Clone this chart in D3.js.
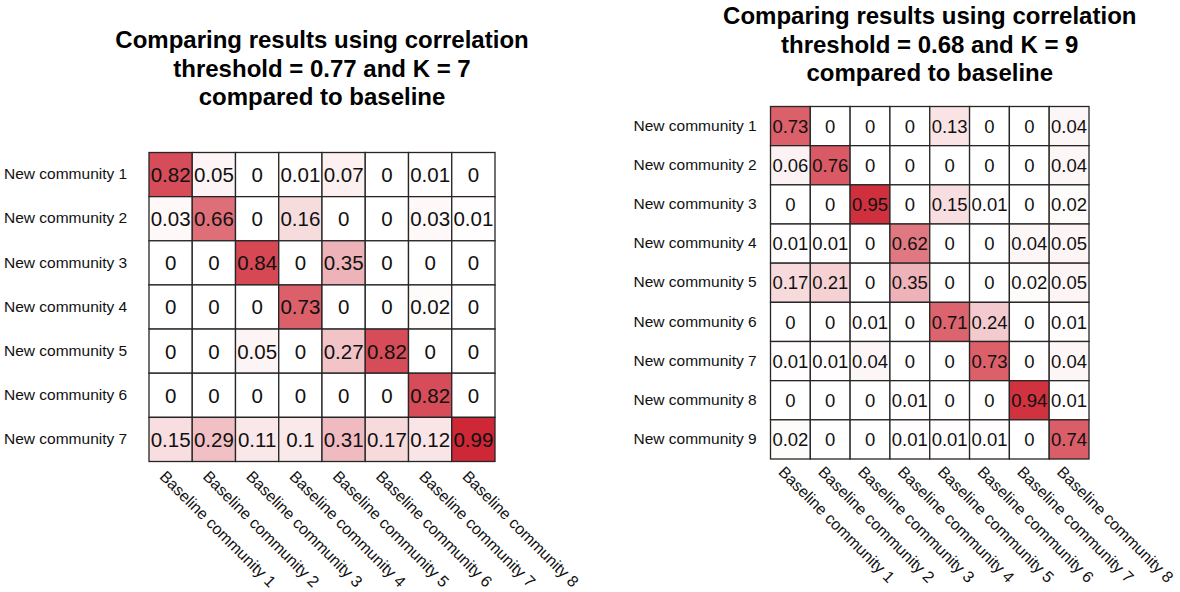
<!DOCTYPE html>
<html>
<head>
<meta charset="utf-8">
<script src="https://cdn.jsdelivr.net/npm/d3@7"></script>
<style>
  body { margin: 0; background: #fff; }
  svg { font-family: "Liberation Sans", Arial, Helvetica, sans-serif; }
</style>
</head>
<body>
<script>
// baseline communities (columns), shared by both charts
var baselineLabels = ["Baseline community 1", "Baseline community 2", "Baseline community 3",
  "Baseline community 4", "Baseline community 5", "Baseline community 6",
  "Baseline community 7", "Baseline community 8"];

// chart 1: threshold 0.77, K = 7
var leftTitle = ["Comparing results using correlation", "threshold = 0.77 and K = 7", "compared to baseline"];
var leftRows = ["New community 1", "New community 2", "New community 3", "New community 4",
  "New community 5", "New community 6", "New community 7"];
var leftValues = [
  [0.82, 0.05, 0, 0.01, 0.07, 0, 0.01, 0],
  [0.03, 0.66, 0, 0.16, 0, 0, 0.03, 0.01],
  [0, 0, 0.84, 0, 0.35, 0, 0, 0],
  [0, 0, 0, 0.73, 0, 0, 0.02, 0],
  [0, 0, 0.05, 0, 0.27, 0.82, 0, 0],
  [0, 0, 0, 0, 0, 0, 0.82, 0],
  [0.15, 0.29, 0.11, 0.1, 0.31, 0.17, 0.12, 0.99]
];

// chart 2: threshold 0.68, K = 9
var rightTitle = ["Comparing results using correlation", "threshold = 0.68 and K = 9", "compared to baseline"];
var rightRows = ["New community 1", "New community 2", "New community 3", "New community 4",
  "New community 5", "New community 6", "New community 7", "New community 8", "New community 9"];
var rightValues = [
  [0.73, 0, 0, 0, 0.13, 0, 0, 0.04],
  [0.06, 0.76, 0, 0, 0, 0, 0, 0.04],
  [0, 0, 0.95, 0, 0.15, 0.01, 0, 0.02],
  [0.01, 0.01, 0, 0.62, 0, 0, 0.04, 0.05],
  [0.17, 0.21, 0, 0.35, 0, 0, 0.02, 0.05],
  [0, 0, 0.01, 0, 0.71, 0.24, 0, 0.01],
  [0.01, 0.01, 0.04, 0, 0, 0.73, 0, 0.04],
  [0, 0, 0, 0.01, 0, 0, 0.94, 0.01],
  [0.02, 0, 0, 0.01, 0.01, 0.01, 0, 0.74]
];

var w = 1180, h = 592;

var svg = d3.select("body")
  .append("svg")
  .attr("width", w)
  .attr("height", h);

var color = d3.scaleLinear()
  .domain([0, 1])
  .range(["#ffffff", "rgb(205,37,51)"]);

function drawHeatmap(opt) {
  var g = svg.append("g");

  var xScale = d3.scaleBand()
    .domain(d3.range(baselineLabels.length))
    .range([opt.left, opt.right]);

  var yScale = d3.scaleBand()
    .domain(d3.range(opt.rows.length))
    .range([opt.top, opt.bottom]);

  var cells = [];
  opt.values.forEach(function(row, i) {
    row.forEach(function(v, j) {
      cells.push({ r: i, c: j, v: v });
    });
  });

  // cells
  g.selectAll("rect.cell")
    .data(cells)
    .enter()
    .append("rect")
    .attr("class", "cell")
    .attr("x", function(d) { return xScale(d.c); })
    .attr("y", function(d) { return yScale(d.r); })
    .attr("width", xScale.bandwidth())
    .attr("height", yScale.bandwidth())
    .attr("fill", function(d) { return color(d.v); })
    .attr("stroke", "#262626")
    .attr("stroke-width", 1.3);

  // values
  g.selectAll("text.val")
    .data(cells)
    .enter()
    .append("text")
    .attr("class", "val")
    .attr("x", function(d) { return xScale(d.c) + xScale.bandwidth() / 2; })
    .attr("y", function(d) { return yScale(d.r) + yScale.bandwidth() / 2; })
    .attr("dy", "0.36em")
    .attr("text-anchor", "middle")
    .attr("font-size", opt.cellFont)
    .attr("fill", "#111")
    .text(function(d) { return d.v; });

  // row labels
  g.selectAll("text.row")
    .data(opt.rows)
    .enter()
    .append("text")
    .attr("class", "row")
    .attr("x", opt.left - opt.rowOffset)
    .attr("y", function(d, i) { return yScale(i) + yScale.bandwidth() / 2; })
    .attr("dy", "0.3em")
    .attr("font-size", 15.5)
    .attr("fill", "#111")
    .text(function(d) { return d; });

  // column labels, rotated
  g.selectAll("text.col")
    .data(baselineLabels)
    .enter()
    .append("text")
    .attr("class", "col")
    .attr("transform", function(d, i) {
      var cx = xScale(i) + xScale.bandwidth() / 2;
      return "translate(" + (cx + opt.colDx) + "," + (opt.bottom + opt.colDy) + ") rotate(45)";
    })
    .attr("font-size", 16)
    .attr("fill", "#111")
    .text(function(d) { return d; });

  // title
  var cx = (opt.left + opt.right) / 2;
  g.selectAll("text.title")
    .data(opt.title)
    .enter()
    .append("text")
    .attr("class", "title")
    .attr("x", cx)
    .attr("y", function(d, i) { return opt.titleY + i * 28.5; })
    .attr("text-anchor", "middle")
    .attr("font-size", 24)
    .attr("font-weight", "bold")
    .attr("fill", "#000")
    .text(function(d) { return d; });
}

drawHeatmap({
  title: leftTitle, rows: leftRows, values: leftValues,
  left: 149, right: 495, top: 152.5, bottom: 461.5,
  cellFont: 20.5, rowOffset: 145, colDx: -12, colDy: 16, titleY: 48
});

drawHeatmap({
  title: rightTitle, rows: rightRows, values: rightValues,
  left: 770.5, right: 1089, top: 106.5, bottom: 459,
  cellFont: 18.5, rowOffset: 137, colDx: -13, colDy: 14, titleY: 24
});
</script>
</body>
</html>
